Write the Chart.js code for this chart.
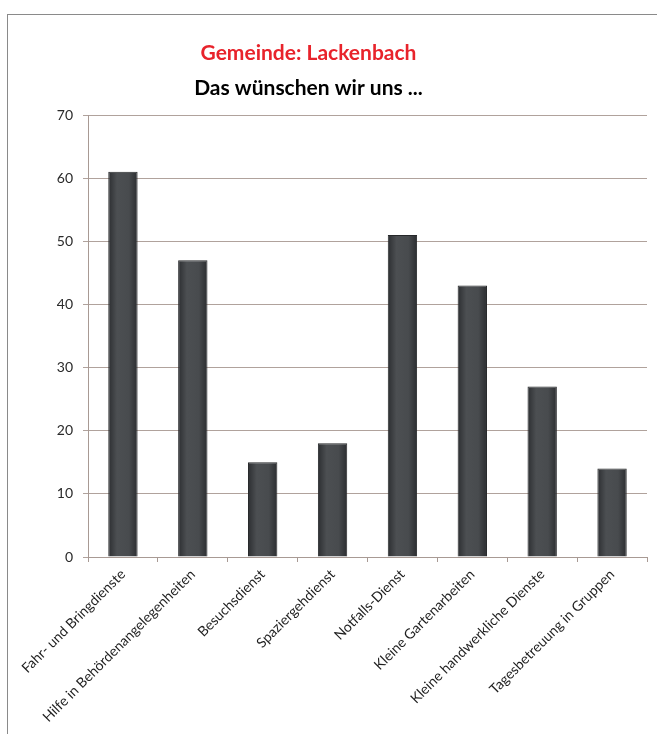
<!DOCTYPE html>
<html>
<head>
<meta charset="utf-8">
<script src="https://cdn.jsdelivr.net/npm/chart.js@4/dist/chart.umd.min.js"></script>
<style>
  body { margin: 0; background: #fff; overflow: hidden; }
  #box {
    position: absolute; left: 7px; top: 14px; width: 660px; height: 730px;
    border-top: 1.5px solid #8a8a8a; border-left: 1.5px solid #8a8a8a;
  }
  #wrap { position: absolute; left: 0; top: 0; width: 649px; height: 719px; }
</style>
</head>
<body>
<div id="box"><div id="wrap"><canvas id="dataChart"></canvas></div></div>
<script>
const categories = [
  'Fahr- und Bringdienste',
  'Hilfe in Behördenangelegenheiten',
  'Besuchsdienst',
  'Spaziergehdienst',
  'Notfalls-Dienst',
  'Kleine Gartenarbeiten',
  'Kleine handwerkliche Dienste',
  'Tagesbetreuung in Gruppen'
];
const values = [61, 47, 15, 18, 51, 43, 27, 14];
const yTicks = [0, 10, 20, 30, 40, 50, 60, 70];
const titleLines = ['Gemeinde: Lackenbach', 'Das wünschen wir uns ...'];

// draws the two title lines (red + black) above the plot
const titlePlugin = {
  id: 'twoTitles',
  afterDraw(chart) {
    const ctx = chart.ctx;
    const cx = chart.width * 0.463;
    ctx.save();
    ctx.textAlign = 'center';
    ctx.textBaseline = 'middle';
    ctx.font = 'bold 21px Lato';
    ctx.fillStyle = '#e8232b';
    ctx.fillText(titleLines[0], cx, 38);
    ctx.fillStyle = '#000';
    ctx.fillText(titleLines[1], cx, 73);
    ctx.restore();
  }
};

function barFill(context) {
  const chart = context.chart;
  const x = chart.scales.x;
  if (!x) return '#45484b';
  const c = x.getPixelForValue(context.dataIndex);
  if (!Number.isFinite(c)) return '#45484b';
  const g = chart.ctx.createLinearGradient(c - 15, 0, c + 15, 0);
  g.addColorStop(0, '#2b2d30');
  g.addColorStop(0.3, '#4c4f52');
  g.addColorStop(0.7, '#484b4e');
  g.addColorStop(1, '#2a2c2f');
  return g;
}

const ctx = document.getElementById('dataChart').getContext('2d');
new Chart(ctx, {
  type: 'bar',
  data: {
    labels: categories,
    datasets: [
      {
        label: 'Anzahl',
        data: values,
        backgroundColor: barFill,
        borderColor: '#26282a',
        borderWidth: 1,
        categoryPercentage: 1,
        barPercentage: 0.42,
      },
    ],
  },
  plugins: [titlePlugin],
  options: {
    responsive: true,
    maintainAspectRatio: false,
    animation: false,
    layout: { padding: { top: 100, right: 10, left: 0, bottom: 0 } },
    plugins: {
      legend: { display: false },
      tooltip: { enabled: false },
    },
    scales: {
      y: {
        min: 0,
        max: 70,
        afterBuildTicks: (axis) => { axis.ticks = yTicks.map(v => ({ value: v })); },
        afterFit: (axis) => { axis.width = 80; },
        border: { color: '#a89a94', width: 1 },
        grid: { color: '#b0a29c', lineWidth: 1, tickLength: 5, drawTicks: true },
        ticks: { color: '#2a2a2a', padding: 10, font: { family: 'Lato', size: 14 } },
      },
      x: {
        afterFit: (axis) => { axis.height = 177; },
        border: { color: '#a89a94', width: 1 },
        grid: { drawOnChartArea: false, drawTicks: true, tickLength: 5, color: '#a89a94', offset: true },
        ticks: {
          color: '#1e1e1e',
          maxRotation: 45,
          minRotation: 45,
          autoSkip: false,
          padding: 4,
          font: { family: 'Lato', size: 14 },
        },
      },
    },
  },
});
</script>
</body>
</html>
